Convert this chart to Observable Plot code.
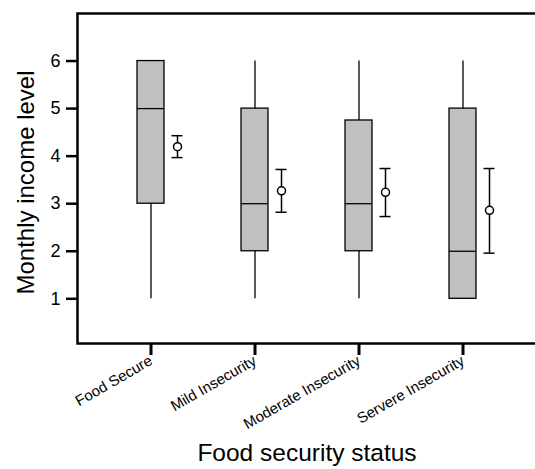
<!DOCTYPE html>
<html><head><meta charset="utf-8">
<script src="https://cdn.jsdelivr.net/npm/d3@7"></script>
<script src="https://cdn.jsdelivr.net/npm/@observablehq/plot@0.6"></script>
<style>
html,body{margin:0;padding:0;background:#fff;overflow:hidden}
g[aria-label="y-axis tick"] path{stroke-width:2.5px}
g[aria-label="x-axis tick"] path{stroke-width:3px}
</style>
</head><body><div id="chart"></div>
<script>
const categories = ["Food Secure", "Mild Insecurity", "Moderate Insecurity", "Servere Insecurity"];
const mins    = [1, 1, 1, 1];
const q1s     = [3, 2, 2, 1];
const medians = [5, 3, 3, 2];
const q3s     = [6, 5, 4.75, 5];
const maxs    = [6, 6, 6, 6];
const means   = [4.2, 3.27, 3.24, 2.86];
const ciLow   = [3.97, 2.82, 2.73, 1.96];
const ciHigh  = [4.43, 3.72, 3.74, 3.74];
const yTicks  = [1, 2, 3, 4, 5, 6];
const yDomain = [0.06, 7];
const yTitle = "Monthly income level";
const xTitle = "Food security status";

const rows = categories.map((cat, i) => ({
  cat, min: mins[i], q1: q1s[i], median: medians[i], q3: q3s[i], max: maxs[i],
  mean: means[i], lo: ciLow[i], hi: ciHigh[i]
}));

const OFF = 26.5;
const chart = Plot.plot({
  width: 535, height: 469,
  marginTop: 13, marginBottom: 126, marginLeft: 77, marginRight: -1,
  style: {fontFamily: "'Liberation Sans', Arial, sans-serif", color: "black", background: "white"},
  x: {type: "band", domain: categories, paddingInner: 0.745, paddingOuter: 0.564, label: null},
  y: {domain: yDomain, label: null},
  marks: [
    Plot.ruleX(rows, {x: "cat", y1: "min", y2: "max", stroke: "black", strokeWidth: 1.3}),
    Plot.barY(rows, {x: "cat", y1: "q1", y2: "q3", fill: "#c0c0c0", stroke: "black", strokeWidth: 1.3}),
    Plot.tickY(rows, {x: "cat", y: "median", stroke: "black", strokeWidth: 1.3}),
    Plot.ruleX(rows, {x: "cat", y1: "lo", y2: "hi", dx: OFF, stroke: "black", strokeWidth: 1.5}),
    Plot.tickY(rows, {x: "cat", y: "lo", dx: OFF, insetLeft: 8, insetRight: 8, stroke: "black", strokeWidth: 1.5}),
    Plot.tickY(rows, {x: "cat", y: "hi", dx: OFF, insetLeft: 8, insetRight: 8, stroke: "black", strokeWidth: 1.5}),
    Plot.dot(rows, {x: "cat", y: "mean", dx: OFF, r: 4, fill: "white", stroke: "black", strokeWidth: 1.5}),
    Plot.axisY({ticks: yTicks, tickFormat: d3.format("d"), tickSize: 11, tickPadding: 6, fontSize: 18, strokeWidth: 2.5, label: null}),
    Plot.axisX({tickSize: 12, tickRotate: -30, fontSize: 15, strokeWidth: 3, tickPadding: 4, label: null}),
    Plot.frame({stroke: "black", strokeWidth: 2.5}),
    Plot.text([yTitle], {text: d => d, frameAnchor: "left", textAnchor: "middle", dx: -51, dy: 4, rotate: -90, fontSize: 24}),
    Plot.text([xTitle], {text: d => d, frameAnchor: "bottom", textAnchor: "middle", dy: 117, fontSize: 24.5})
  ]
});
document.getElementById("chart").append(chart);
</script>
</body></html>
